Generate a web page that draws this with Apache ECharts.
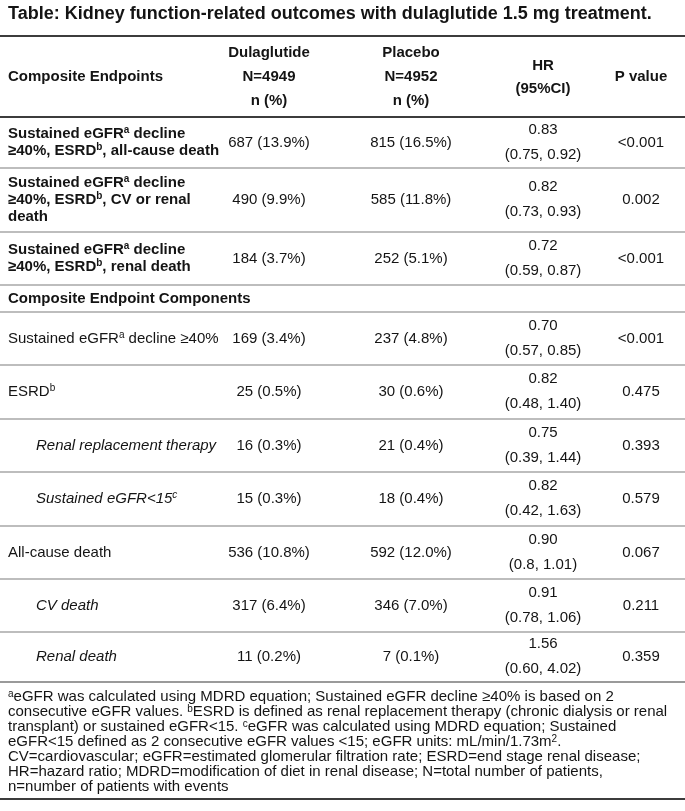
<!DOCTYPE html>
<html><head><meta charset="utf-8">
<script src="https://cdn.jsdelivr.net/npm/echarts@6/dist/echarts.min.js"></script>
<style>html,body{margin:0;padding:0;background:#fff}#c{width:685px;height:811px}</style>
</head><body><div id="c"></div>
<script>
// ---------------- DATA ----------------
const titleText = 'Table: Kidney function-related outcomes with dulaglutide 1.5 mg treatment.';
const headerLabel = 'Composite Endpoints';
const headerDula = ['Dulaglutide', 'N=4949', 'n (%)'];
const headerPlac = ['Placebo', 'N=4952', 'n (%)'];
const headerHR = ['HR', '(95%CI)'];
const headerP = 'P value';
const sectionLabel = 'Composite Endpoint Components';
// endpoint labels (rich-text markup: b=bold, bs=bold superscript, n=normal, ns=normal sup, i=italic, is=italic sup)
const endpointLabels = [
  '{b|Sustained eGFR}{bs|a}{b| decline}\n{b|≥40%, ESRD}{bs|b}{b|, all-cause death}',
  '{b|Sustained eGFR}{bs|a}{b| decline}\n{b|≥40%, ESRD}{bs|b}{b|, CV or renal}\n{b|death}',
  '{b|Sustained eGFR}{bs|a}{b| decline}\n{b|≥40%, ESRD}{bs|b}{b|, renal death}',
  '{n|Sustained eGFR}{ns|a}{n| decline ≥40%}',
  '{n|ESRD}{ns|b}',
  '{i|Renal replacement therapy}',
  '{i|Sustained eGFR<15}{is|c}',
  '{n|All-cause death}',
  '{i|CV death}',
  '{i|Renal death}'
];
const indented = [false, false, false, false, false, true, true, false, true, true];
const dulaN = [687, 490, 184, 169, 25, 16, 15, 536, 317, 11];
const dulaPct = ['13.9', '9.9', '3.7', '3.4', '0.5', '0.3', '0.3', '10.8', '6.4', '0.2'];
const placN = [815, 585, 252, 237, 30, 21, 18, 592, 346, 7];
const placPct = ['16.5', '11.8', '5.1', '4.8', '0.6', '0.4', '0.4', '12.0', '7.0', '0.1'];
const hrValues = ['0.83', '0.82', '0.72', '0.70', '0.82', '0.75', '0.82', '0.90', '0.91', '1.56'];
const ciLow = ['0.75', '0.73', '0.59', '0.57', '0.48', '0.39', '0.42', '0.8', '0.78', '0.60'];
const ciHigh = ['0.92', '0.93', '0.87', '0.85', '1.40', '1.44', '1.63', '1.01', '1.06', '4.02'];
const pValues = ['<0.001', '0.002', '<0.001', '<0.001', '0.475', '0.393', '0.579', '0.067', '0.211', '0.359'];
const footnoteLines = [
  '{ns|a}{n|eGFR was calculated using MDRD equation; Sustained eGFR decline ≥40% is based on 2}',
  '{n|consecutive eGFR values. }{ns|b}{n|ESRD is defined as renal replacement therapy (chronic dialysis or renal}',
  '{n|transplant) or sustained eGFR<15. }{ns|c}{n|eGFR was calculated using MDRD equation; Sustained}',
  '{n|eGFR<15 defined as 2 consecutive eGFR values <15; eGFR units: mL/min/1.73m}{ns|2}{n|.}',
  '{n|CV=cardiovascular; eGFR=estimated glomerular filtration rate; ESRD=end stage renal disease;}',
  '{n|HR=hazard ratio; MDRD=modification of diet in renal disease; N=total number of patients,}',
  '{n|n=number of patients with events}'
];

// ---------------- LAYOUT ----------------
const W = 685, H = 811;
const FONT = '"Liberation Sans", Arial, Helvetica, sans-serif';
const INK = '#141414';
const FS = 15, FNFS = 15;
const colX = {label: 8, indent: 36, dula: 269, plac: 411, hr: 543, p: 641};
const rowBounds = [[117,168],[168,232],[232,285],[312,365],[365,419],[419,472],[472,526],[526,579],[579,632],[632,682]];
const sectionBounds = [285, 312];
const rules = [
  {y: 36, w: 2, c: '#3c3c3c'},
  {y: 117, w: 2, c: '#3c3c3c'},
  {y: 168, w: 2, c: '#bdbdbd'}, {y: 232, w: 2, c: '#bdbdbd'}, {y: 285, w: 2, c: '#bdbdbd'},
  {y: 312, w: 2, c: '#bdbdbd'}, {y: 365, w: 2, c: '#bdbdbd'}, {y: 419, w: 2, c: '#bdbdbd'},
  {y: 472, w: 2, c: '#bdbdbd'}, {y: 526, w: 2, c: '#bdbdbd'}, {y: 579, w: 2, c: '#bdbdbd'},
  {y: 632, w: 2, c: '#bdbdbd'}, {y: 682, w: 2, c: '#9a9a9a'},
  {y: 799, w: 2, c: '#3c3c3c'}
];
const footTop = 697, footStep = 15;

const LH = 17;
const rich = {
  b:  {fontFamily: FONT, fontSize: FS, fontWeight: 'bold', lineHeight: LH, fill: INK, color: INK},
  bs: {fontFamily: FONT, fontSize: 10, fontWeight: 'bold', lineHeight: 11, verticalAlign: 'top', fill: INK, color: INK},
  n:  {fontFamily: FONT, fontSize: FS, lineHeight: LH, fill: INK, color: INK},
  ns: {fontFamily: FONT, fontSize: 10, lineHeight: 11, verticalAlign: 'top', fill: INK, color: INK},
  i:  {fontFamily: FONT, fontSize: FS, fontStyle: 'italic', lineHeight: LH, fill: INK, color: INK},
  is: {fontFamily: FONT, fontSize: 10, fontStyle: 'italic', lineHeight: 11, verticalAlign: 'top', fill: INK, color: INK}
};
const richFoot = {
  n:  {fontFamily: FONT, fontSize: FNFS, lineHeight: footStep, fill: INK, color: INK},
  ns: {fontFamily: FONT, fontSize: 10, lineHeight: 10, verticalAlign: 'top', fill: INK, color: INK}
};

function txt(api, x, y, text, opt) {
  const p = api.coord([x, y]);
  return {
    type: 'text',
    style: Object.assign({
      text: text, x: p[0], y: p[1], fill: INK,
      fontFamily: FONT, fontSize: FS,
      align: 'center', verticalAlign: 'middle'
    }, opt || {})
  };
}

// header + section rows
function renderHeader(params, api) {
  const kids = [];
  const hb = [36, 117];
  const mid = (hb[0] + hb[1]) / 2;
  const bold = {fontWeight: 'bold'};
  kids.push(txt(api, colX.label, mid, headerLabel, Object.assign({align: 'left'}, bold)));
  [-24, 0, 24].forEach((d, k) => {
    kids.push(txt(api, colX.dula, mid + d, headerDula[k], bold));
    kids.push(txt(api, colX.plac, mid + d, headerPlac[k], bold));
  });
  kids.push(txt(api, colX.hr, mid - 11, headerHR[0], bold));
  kids.push(txt(api, colX.hr, mid + 12, headerHR[1], bold));
  kids.push(txt(api, colX.p, mid, headerP, bold));
  const sm = (sectionBounds[0] + sectionBounds[1]) / 2;
  kids.push(txt(api, colX.label, sm, sectionLabel, Object.assign({align: 'left'}, bold)));
  return {type: 'group', children: kids};
}

function renderRow(params, api) {
  const i = api.value(0);
  const b = rowBounds[i];
  const mid = (b[0] + b[1]) / 2;
  const kids = [];
  kids.push(txt(api, indented[i] ? colX.indent : colX.label, mid, endpointLabels[i], {align: 'left', rich: rich, lineHeight: LH}));
  kids.push(txt(api, colX.dula, mid, dulaN[i] + ' (' + dulaPct[i] + '%)'));
  kids.push(txt(api, colX.plac, mid, placN[i] + ' (' + placPct[i] + '%)'));
  kids.push(txt(api, colX.hr, mid - 13, hrValues[i]));
  kids.push(txt(api, colX.hr, mid + 12, '(' + ciLow[i] + ', ' + ciHigh[i] + ')'));
  kids.push(txt(api, colX.p, mid, pValues[i]));
  return {type: 'group', children: kids};
}

function renderRule(params, api) {
  const r = rules[api.value(0)];
  const a = api.coord([0, r.y]);
  const z = api.coord([W, r.y]);
  return {type: 'line', shape: {x1: a[0], y1: a[1], x2: z[0], y2: z[1]}, style: {stroke: r.c, lineWidth: r.w}};
}

function renderFoot(params, api) {
  const k = api.value(0);
  return txt(api, colX.label, footTop + k * footStep, footnoteLines[k], {align: 'left', rich: richFoot, fontSize: FNFS});
}

const chart = echarts.init(document.getElementById('c'), null, {renderer: 'canvas'});
chart.setOption({
  animation: false,
  backgroundColor: '#ffffff',
  title: {
    text: titleText, left: 8, top: 5, padding: 0,
    textStyle: {fontFamily: FONT, fontSize: 18, fontWeight: 'bold', color: INK}
  },
  grid: {left: 0, right: 0, top: 0, bottom: 0},
  xAxis: {type: 'value', min: 0, max: W, show: false},
  yAxis: {type: 'value', min: 0, max: H, inverse: true, show: false},
  series: [
    {type: 'custom', name: 'rules', renderItem: renderRule, data: rules.map((r, k) => [k]), silent: true},
    {type: 'custom', name: 'header', renderItem: renderHeader, data: [[0]], silent: true},
    {type: 'custom', name: 'rows', renderItem: renderRow, data: endpointLabels.map((s, k) => [k]), silent: true},
    {type: 'custom', name: 'footnotes', renderItem: renderFoot, data: footnoteLines.map((s, k) => [k]), silent: true}
  ]
});
</script></body></html>
